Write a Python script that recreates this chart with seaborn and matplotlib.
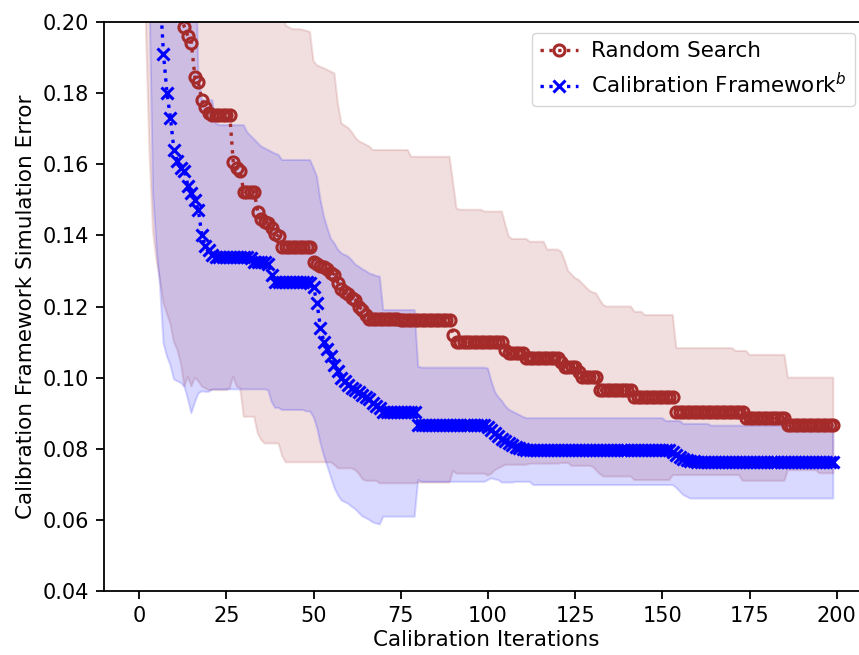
import numpy as np
import pandas as pd
import matplotlib
matplotlib.use("Agg")
import matplotlib.pyplot as plt
import seaborn as sns

iterations = list(range(200))

# Random Search: mean (best-so-far error) and band bounds
rs_mean = [
    0.400, 0.350, 0.310, 0.280, 0.260, 0.245, 0.235, 0.225, 0.218, 0.212,
    0.208, 0.205, 0.202, 0.1985, 0.196, 0.194, 0.1845, 0.183, 0.178, 0.176,
    0.1745, 0.1738, 0.1738, 0.1738, 0.1738, 0.1738, 0.1738, 0.1605, 0.159, 0.158,
    0.1523, 0.1523, 0.1523, 0.1523, 0.1467, 0.1445, 0.1437, 0.1435, 0.142, 0.1405,
    0.1397, 0.1368, 0.1368, 0.1368, 0.1368, 0.1368, 0.1368, 0.1368, 0.1368, 0.1368,
    0.1325, 0.132, 0.1315, 0.131, 0.1305, 0.1295, 0.129, 0.1266, 0.125, 0.124,
    0.1235, 0.1225, 0.1218, 0.120, 0.119, 0.1175, 0.1165, 0.1165, 0.1165, 0.1165,
    0.1165, 0.1165, 0.1165, 0.1165, 0.1165, 0.1162, 0.1162, 0.1162, 0.1162, 0.1162,
    0.1162, 0.1162, 0.1162, 0.1162, 0.1162, 0.1162, 0.1162, 0.1162, 0.1162, 0.1162,
    0.112, 0.110, 0.110, 0.110, 0.110, 0.110, 0.110, 0.110, 0.110, 0.110,
    0.110, 0.110, 0.110, 0.110, 0.110, 0.1078, 0.1068, 0.1068, 0.1068, 0.1068,
    0.1068, 0.1055, 0.1055, 0.1055, 0.1055, 0.1055, 0.1055, 0.1055, 0.1055, 0.1055,
    0.1055, 0.1045, 0.1031, 0.1031, 0.1031, 0.1031, 0.1015, 0.1003, 0.1003, 0.1003,
    0.1003, 0.1003, 0.0965, 0.0965, 0.0965, 0.0965, 0.0965, 0.0965, 0.0965, 0.0965,
    0.0965, 0.0965, 0.0946, 0.0946, 0.0946, 0.0946, 0.0946, 0.0946, 0.0946, 0.0946,
    0.0946, 0.0946, 0.0946, 0.0946, 0.0904, 0.0904, 0.0904, 0.0904, 0.0904, 0.0904,
    0.0904, 0.0904, 0.0904, 0.0904, 0.0904, 0.0904, 0.0904, 0.0904, 0.0904, 0.0904,
    0.0904, 0.0904, 0.0904, 0.0904, 0.0886, 0.0886, 0.0886, 0.0886, 0.0886, 0.0886,
    0.0886, 0.0886, 0.0886, 0.0886, 0.0886, 0.0886, 0.0867, 0.0867, 0.0867, 0.0867,
    0.0867, 0.0867, 0.0867, 0.0867, 0.0867, 0.0867, 0.0867, 0.0867, 0.0867, 0.0867,
]

rs_hi = [
    0.60, 0.58, 0.56, 0.54, 0.52, 0.50, 0.48, 0.46, 0.44, 0.42,
    0.40, 0.38, 0.36, 0.35, 0.34, 0.33, 0.32, 0.31, 0.30, 0.29,
    0.28, 0.275, 0.27, 0.265, 0.26, 0.255, 0.25, 0.245, 0.24, 0.235,
    0.23, 0.228, 0.226, 0.224, 0.222, 0.22, 0.218, 0.216, 0.214, 0.212,
    0.21, 0.205, 0.199, 0.1985, 0.198, 0.198, 0.198, 0.1978, 0.1975, 0.1972,
    0.189, 0.1878, 0.1874, 0.187, 0.1865, 0.186, 0.1856, 0.177, 0.1715, 0.1708,
    0.1702, 0.169, 0.1675, 0.1665, 0.166, 0.1655, 0.165, 0.164, 0.164, 0.164,
    0.164, 0.164, 0.164, 0.164, 0.164, 0.164, 0.164, 0.164, 0.1621, 0.1621,
    0.1621, 0.1621, 0.1621, 0.1621, 0.1621, 0.1621, 0.1621, 0.1621, 0.1621, 0.1621,
    0.155, 0.1476, 0.1472, 0.1472, 0.1472, 0.1472, 0.1472, 0.1472, 0.1472, 0.1467,
    0.1467, 0.1467, 0.1467, 0.1467, 0.1467, 0.143, 0.1396, 0.139, 0.139, 0.139,
    0.139, 0.139, 0.1382, 0.1382, 0.1382, 0.1382, 0.1382, 0.136, 0.136, 0.136,
    0.136, 0.1354, 0.133, 0.130, 0.129, 0.128, 0.1275, 0.1265, 0.1255, 0.1245,
    0.124, 0.1237, 0.122, 0.1205, 0.120, 0.120, 0.120, 0.120, 0.120, 0.120,
    0.120, 0.120, 0.1185, 0.1185, 0.1185, 0.1176, 0.1176, 0.1176, 0.1176, 0.1176,
    0.1176, 0.1176, 0.1176, 0.1176, 0.1083, 0.1083, 0.1083, 0.1083, 0.1083, 0.1083,
    0.1083, 0.1083, 0.1083, 0.1083, 0.1083, 0.1083, 0.1083, 0.1083, 0.1083, 0.1083,
    0.1083, 0.1075, 0.1075, 0.1075, 0.1075, 0.1064, 0.1064, 0.1064, 0.1064, 0.1064,
    0.1064, 0.1064, 0.1064, 0.1064, 0.1064, 0.1064, 0.100, 0.100, 0.100, 0.100,
    0.100, 0.100, 0.100, 0.100, 0.100, 0.100, 0.100, 0.100, 0.100, 0.100,
]

rs_lo = [
    0.40, 0.26, 0.197, 0.163, 0.141, 0.133, 0.1275, 0.121, 0.118, 0.115,
    0.110, 0.1078, 0.104, 0.0975, 0.1003, 0.0975, 0.100, 0.099, 0.0975, 0.097,
    0.0965, 0.0965, 0.0965, 0.0965, 0.0965, 0.0965, 0.097, 0.1003, 0.0975, 0.097,
    0.089, 0.089, 0.089, 0.089, 0.0844, 0.0825, 0.0815, 0.0815, 0.0815, 0.0815,
    0.0815, 0.078, 0.0762, 0.0762, 0.0762, 0.0762, 0.0762, 0.0762, 0.0762, 0.0762,
    0.0762, 0.0762, 0.0762, 0.0762, 0.0762, 0.0762, 0.0755, 0.0745, 0.0745, 0.0745,
    0.0745, 0.0745, 0.074, 0.073, 0.0715, 0.071, 0.071, 0.071, 0.071, 0.0703,
    0.0703, 0.0703, 0.0703, 0.0703, 0.0703, 0.0703, 0.0703, 0.0703, 0.0703, 0.0703,
    0.0705, 0.0705, 0.0705, 0.0705, 0.0705, 0.0705, 0.0705, 0.0705, 0.0705, 0.0705,
    0.0738, 0.073, 0.073, 0.073, 0.073, 0.073, 0.073, 0.073, 0.073, 0.073,
    0.0725, 0.073, 0.074, 0.0745, 0.075, 0.0755, 0.0755, 0.0755, 0.0755, 0.0755,
    0.0755, 0.0755, 0.0758, 0.0758, 0.0758, 0.0758, 0.0758, 0.0758, 0.0758, 0.0758,
    0.0758, 0.076, 0.076, 0.076, 0.0752, 0.0752, 0.0752, 0.0752, 0.0752, 0.0752,
    0.075, 0.074, 0.073, 0.0722, 0.0722, 0.0722, 0.0722, 0.0722, 0.0722, 0.0722,
    0.0722, 0.0722, 0.0712, 0.0712, 0.0712, 0.0712, 0.0712, 0.0712, 0.0712, 0.0712,
    0.0712, 0.0712, 0.0712, 0.0726, 0.0726, 0.0726, 0.0726, 0.0726, 0.0726, 0.0726,
    0.0726, 0.0726, 0.0726, 0.0726, 0.0726, 0.0726, 0.0726, 0.0726, 0.0726, 0.0726,
    0.0726, 0.0726, 0.0726, 0.071, 0.071, 0.071, 0.071, 0.071, 0.071, 0.071,
    0.071, 0.071, 0.071, 0.071, 0.071, 0.071, 0.074, 0.074, 0.074, 0.074,
    0.074, 0.074, 0.074, 0.074, 0.074, 0.0731, 0.0731, 0.0731, 0.0731, 0.0731,
]

# Calibration Framework: mean and band bounds
cf_mean = [
    0.400, 0.340, 0.300, 0.270, 0.245, 0.225, 0.208, 0.191, 0.180, 0.173,
    0.164, 0.161, 0.159, 0.158, 0.154, 0.152, 0.150, 0.147, 0.140, 0.137,
    0.136, 0.1345, 0.134, 0.134, 0.134, 0.134, 0.134, 0.134, 0.134, 0.134,
    0.134, 0.134, 0.1335, 0.1325, 0.1325, 0.1325, 0.1325, 0.132, 0.129, 0.127,
    0.127, 0.127, 0.127, 0.127, 0.127, 0.127, 0.127, 0.127, 0.1268, 0.1265,
    0.1255, 0.121, 0.114, 0.110, 0.108, 0.106, 0.1035, 0.102, 0.100, 0.099,
    0.098, 0.097, 0.0965, 0.096, 0.095, 0.0945, 0.094, 0.093, 0.092, 0.0915,
    0.0902, 0.0902, 0.0902, 0.0902, 0.0902, 0.0902, 0.0902, 0.0902, 0.0902, 0.0902,
    0.0868, 0.0868, 0.0868, 0.0868, 0.0868, 0.0868, 0.0868, 0.0868, 0.0868, 0.0868,
    0.0868, 0.0868, 0.0868, 0.0868, 0.0868, 0.0868, 0.0868, 0.0868, 0.0868, 0.0868,
    0.0862, 0.0852, 0.0843, 0.0835, 0.0828, 0.0822, 0.0816, 0.081, 0.0806, 0.0802,
    0.080, 0.0797, 0.0797, 0.0797, 0.0797, 0.0797, 0.0797, 0.0797, 0.0797, 0.0797,
    0.0797, 0.0797, 0.0797, 0.0797, 0.0797, 0.0797, 0.0797, 0.0797, 0.0797, 0.0797,
    0.0797, 0.0797, 0.0797, 0.0797, 0.0797, 0.0797, 0.0797, 0.0797, 0.0797, 0.0797,
    0.0797, 0.0797, 0.0797, 0.0797, 0.0797, 0.0797, 0.0797, 0.0797, 0.0797, 0.0797,
    0.0797, 0.0797, 0.0796, 0.079, 0.0783, 0.0776, 0.077, 0.0768, 0.0766, 0.0765,
    0.0764, 0.0764, 0.0764, 0.0764, 0.0762, 0.0762, 0.0762, 0.0762, 0.0762, 0.0762,
    0.0762, 0.0762, 0.0762, 0.0762, 0.0762, 0.0762, 0.0762, 0.0762, 0.0762, 0.0762,
    0.0762, 0.0762, 0.0762, 0.0762, 0.0762, 0.0762, 0.0762, 0.0762, 0.0762, 0.0762,
    0.0762, 0.0762, 0.0762, 0.0762, 0.0762, 0.0762, 0.0762, 0.0762, 0.0762, 0.0762,
]

cf_hi = [
    0.50, 0.48, 0.46, 0.44, 0.42, 0.40, 0.38, 0.36, 0.34, 0.32,
    0.30, 0.29, 0.28, 0.27, 0.26, 0.25, 0.235, 0.185, 0.178, 0.178,
    0.178, 0.178, 0.1715, 0.171, 0.171, 0.171, 0.171, 0.171, 0.171, 0.171,
    0.171, 0.169, 0.168, 0.167, 0.166, 0.165, 0.1645, 0.164, 0.1635, 0.163,
    0.1626, 0.1612, 0.1612, 0.1612, 0.1612, 0.1612, 0.1612, 0.1612, 0.1612, 0.1612,
    0.159, 0.1565, 0.150, 0.1453, 0.142, 0.139, 0.1378, 0.136, 0.135, 0.1345,
    0.134, 0.133, 0.1318, 0.1312, 0.1305, 0.130, 0.1293, 0.129, 0.1286, 0.1284,
    0.119, 0.119, 0.119, 0.119, 0.119, 0.119, 0.119, 0.119, 0.119, 0.119,
    0.1031, 0.1028, 0.1028, 0.1028, 0.1028, 0.1028, 0.1028, 0.1028, 0.1028, 0.1028,
    0.1028, 0.1028, 0.1028, 0.1028, 0.1028, 0.1028, 0.1028, 0.1028, 0.1028, 0.1028,
    0.1026, 0.099, 0.096, 0.0945, 0.0935, 0.092, 0.091, 0.0905, 0.090, 0.0895,
    0.089, 0.0886, 0.0886, 0.0886, 0.0886, 0.0886, 0.0886, 0.0886, 0.0886, 0.0886,
    0.0886, 0.0886, 0.0886, 0.0886, 0.0886, 0.0886, 0.0886, 0.0886, 0.0886, 0.0886,
    0.0886, 0.0886, 0.0886, 0.0886, 0.0886, 0.0886, 0.0886, 0.0886, 0.0886, 0.0886,
    0.0886, 0.0886, 0.0886, 0.0886, 0.0886, 0.0886, 0.0886, 0.0886, 0.0886, 0.0886,
    0.0886, 0.0878, 0.0878, 0.0878, 0.0878, 0.0878, 0.087, 0.087, 0.087, 0.087,
    0.087, 0.087, 0.087, 0.087, 0.0865, 0.0865, 0.0865, 0.0865, 0.0865, 0.0865,
    0.0865, 0.0865, 0.0865, 0.0865, 0.0865, 0.0865, 0.0865, 0.0865, 0.0865, 0.0865,
    0.0865, 0.0865, 0.0865, 0.0865, 0.0865, 0.0865, 0.0865, 0.0865, 0.0865, 0.0865,
    0.0865, 0.0865, 0.0865, 0.0865, 0.0865, 0.0865, 0.0865, 0.0865, 0.0865, 0.0865,
]

cf_lo = [
    0.40, 0.30, 0.23, 0.207, 0.152, 0.137, 0.126, 0.1097, 0.106, 0.1035,
    0.0995, 0.099, 0.0985, 0.0975, 0.094, 0.090, 0.093, 0.0955, 0.0962, 0.096,
    0.096, 0.0967, 0.0967, 0.0967, 0.0967, 0.0967, 0.0967, 0.0967, 0.0967, 0.0967,
    0.0967, 0.0967, 0.0967, 0.0967, 0.0967, 0.0967, 0.0967, 0.0965, 0.0932, 0.0915,
    0.0915, 0.0909, 0.0909, 0.0909, 0.0909, 0.0909, 0.0909, 0.0909, 0.0905, 0.0905,
    0.089, 0.086, 0.0816, 0.078, 0.075, 0.072, 0.069, 0.067, 0.0655, 0.065,
    0.0645, 0.0637, 0.063, 0.062, 0.061, 0.0605, 0.060, 0.0593, 0.059, 0.0587,
    0.0609, 0.0609, 0.0609, 0.0609, 0.0609, 0.0609, 0.0609, 0.0609, 0.0609, 0.0609,
    0.0712, 0.0707, 0.0707, 0.0707, 0.0707, 0.0707, 0.0707, 0.0707, 0.0707, 0.0707,
    0.0707, 0.0707, 0.0707, 0.0707, 0.0707, 0.0707, 0.0707, 0.0707, 0.0707, 0.0707,
    0.0712, 0.0717, 0.0714, 0.0712, 0.0705, 0.0705, 0.0705, 0.0705, 0.0707, 0.0707,
    0.0707, 0.0707, 0.0707, 0.0698, 0.0698, 0.0698, 0.0698, 0.0698, 0.0698, 0.0698,
    0.0698, 0.0698, 0.0698, 0.0698, 0.0698, 0.0698, 0.0698, 0.0698, 0.0698, 0.0698,
    0.0698, 0.0698, 0.0698, 0.0698, 0.0698, 0.0698, 0.0698, 0.0698, 0.0698, 0.0698,
    0.0698, 0.0698, 0.0698, 0.0698, 0.0698, 0.0698, 0.0698, 0.0698, 0.0698, 0.0698,
    0.0698, 0.0698, 0.0698, 0.0698, 0.069, 0.068, 0.067, 0.0665, 0.066, 0.066,
    0.066, 0.066, 0.066, 0.066, 0.066, 0.066, 0.066, 0.066, 0.066, 0.066,
    0.066, 0.066, 0.066, 0.066, 0.066, 0.066, 0.066, 0.066, 0.066, 0.066,
    0.066, 0.066, 0.066, 0.066, 0.066, 0.066, 0.066, 0.066, 0.066, 0.066,
    0.066, 0.066, 0.066, 0.066, 0.066, 0.066, 0.066, 0.066, 0.066, 0.066,
]

series_names = ["Random Search", "Calibration Framework$^b$"]
y_ticks = [0.04, 0.06, 0.08, 0.10, 0.12, 0.14, 0.16, 0.18, 0.20]
x_ticks = [0, 25, 50, 75, 100, 125, 150, 175, 200]

plt.rcParams['font.family'] = ['DejaVu Sans']
FS = 15.5
TFS = 15

fig = plt.figure(figsize=(8.59, 6.55), dpi=100)
ax = fig.add_axes([0.1215, 0.0977, 0.889, 0.8687])

df_rs = pd.DataFrame({"it": iterations, "err": rs_mean})
df_cf = pd.DataFrame({"it": iterations, "err": cf_mean})

# bands
ax.fill_between(iterations, rs_lo, rs_hi, color="brown", alpha=0.15, linewidth=1.5)
ax.fill_between(iterations, cf_lo, cf_hi, color="blue", alpha=0.15, linewidth=1.5)

sns.lineplot(data=df_rs, x="it", y="err", ax=ax, estimator=None, color="brown",
             linestyle=":", linewidth=2.4, marker="o", markersize=8,
             markerfacecolor="none", markeredgecolor="brown", markeredgewidth=2.2,
             label=series_names[0])
sns.lineplot(data=df_cf, x="it", y="err", ax=ax, estimator=None, color="blue",
             linestyle=":", linewidth=2.4, marker="x", markersize=8.5,
             markeredgecolor="blue", markeredgewidth=2.2,
             label=series_names[1])

ax.set_xlim(-9.95, 208.95)
ax.set_ylim(0.04, 0.20)
ax.set_xticks(x_ticks)
ax.set_yticks(y_ticks)
ax.set_yticklabels([f"{v:.2f}" for v in y_ticks])
ax.tick_params(axis="both", labelsize=TFS, length=5.8, width=1.3, pad=5,
               direction="out")
for s in ax.spines.values():
    s.set_linewidth(1.3)

ax.set_xlabel("Calibration Iterations", fontsize=FS, labelpad=3)
ax.set_ylabel("Calibration Framework Simulation Error", fontsize=FS, labelpad=5)

leg = ax.legend(loc="upper right", bbox_to_anchor=(0.983, 0.981), borderaxespad=0,
                fontsize=FS, frameon=True, fancybox=True, framealpha=0.8,
                handlelength=1.75, handletextpad=0.6, borderpad=0.4)

fig.savefig("out.png", dpi=100)
